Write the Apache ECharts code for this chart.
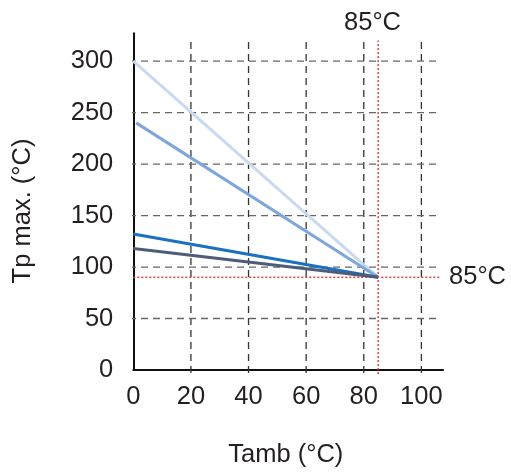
<!DOCTYPE html>
<html>
<head>
<meta charset="utf-8">
<script src="https://cdn.jsdelivr.net/npm/echarts@6/dist/echarts.min.js"></script>
<style>html,body{margin:0;padding:0;background:#fff}#c{width:511px;height:475px}</style>
</head>
<body>
<div id="c"></div>
<script>
// ---- data ----
const xTicks = [0, 20, 40, 60, 80, 100];
const yTicks = [0, 50, 100, 150, 200, 250, 300];
const seriesLight = [[0, 300], [85, 90]];
const seriesMedium = [[1, 240], [85, 90]];
const seriesBlue = [[0, 132], [85, 90]];
const seriesDark = [[0, 118], [85, 90]];
const limitX = 85;
const limitY = 90;
const xTitle = 'Tamb (°C)';
const yTitle = 'Tp max. (°C)';
const limitLabel = '85°C';

const FONT = '"Liberation Sans", Arial, sans-serif';
const TXT = '#231f20';

const chart = echarts.init(document.getElementById('c'));

function seg(data, color, width, type, z) {
  return {
    type: 'line', data: data, symbol: 'none', silent: true, clip: false,
    lineStyle: {color: color, width: width, type: type || 'solid'}, z: z || 2
  };
}

const gridSeries = [];
xTicks.filter(v => v > 0).forEach(v => gridSeries.push(seg([[v, -3], [v, 320]], '#333', 1.3, [7, 5], 2)));
yTicks.filter(v => v > 0).forEach(v => gridSeries.push(seg([[-1.5, v], [106.5, v]], '#666', 1.3, [7, 5], 2)));
gridSeries.push(seg([[limitX, -4], [limitX, 320]], '#e0393e', 1.5, [2, 2], 3));
gridSeries.push(seg([[0, limitY], [106.5, limitY]], '#e0393e', 1.5, [2, 2], 3));

chart.setOption({
  animation: false,
  grid: {left: 133.3, top: 33.3, width: 309.7, height: 336.7, containLabel: false},
  xAxis: {
    type: 'value', min: 0, max: 107.5, interval: 20,
    axisLine: {show: true, lineStyle: {color: '#111', width: 2}},
    axisTick: {show: false},
    splitLine: {show: false},
    axisLabel: {
      margin: 14, fontSize: 25.5, fontFamily: FONT, color: TXT,
      formatter: v => (xTicks.indexOf(v) >= 0 ? String(v) : '')
    }
  },
  yAxis: {
    type: 'value', min: 0, max: 327, interval: 50,
    axisLine: {show: true, lineStyle: {color: '#111', width: 2}},
    axisTick: {show: false},
    splitLine: {show: false},
    axisLabel: {
      margin: 20, fontSize: 25.5, fontFamily: FONT, color: TXT,
      formatter: v => (yTicks.indexOf(v) >= 0 ? String(v) : '')
    }
  },
  series: gridSeries.concat([
    seg(seriesLight, '#c9daf0', 3, 'solid', 5),
    seg(seriesMedium, '#7fa6db', 3, 'solid', 5),
    seg(seriesBlue, '#1b70c0', 3, 'solid', 5),
    seg(seriesDark, '#4e5c79', 3, 'solid', 5)
  ]),
  graphic: [
    {type: 'text', position: [285.8, 455], style: {text: xTitle, font: '25.5px ' + FONT, fill: TXT, textAlign: 'center', textVerticalAlign: 'middle'}},
    {type: 'text', rotation: Math.PI / 2, position: [23, 211], style: {text: yTitle, font: '25.5px ' + FONT, fill: TXT, textAlign: 'center', textVerticalAlign: 'middle'}},
    {type: 'text', position: [372.5, 22.5], style: {text: limitLabel, font: '25.5px ' + FONT, fill: TXT, textAlign: 'center', textVerticalAlign: 'middle'}},
    {type: 'text', position: [477.5, 277], style: {text: limitLabel, font: '25.5px ' + FONT, fill: TXT, textAlign: 'center', textVerticalAlign: 'middle'}}
  ]
});
</script>
</body>
</html>
